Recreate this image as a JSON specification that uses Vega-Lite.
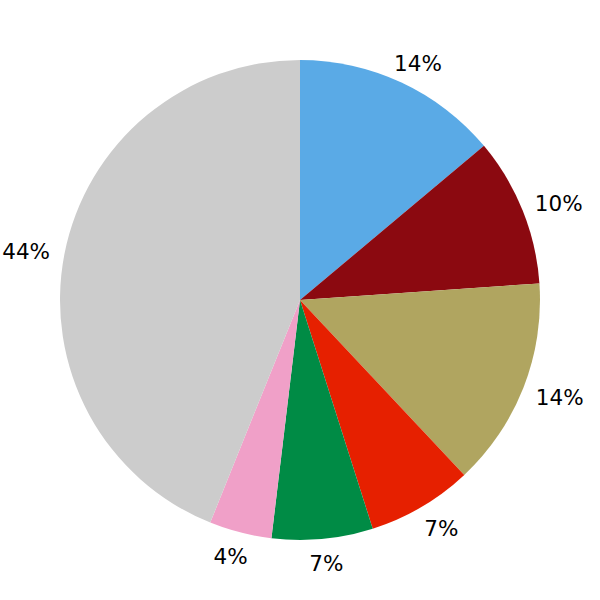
{
  "$schema": "https://vega.github.io/schema/vega-lite/v6.json",
  "width": 600,
  "height": 600,
  "padding": 0,
  "autosize": {"type": "fit", "contains": "padding"},
  "background": "white",
  "view": {"stroke": null},
  "data": {
    "values": [
      {"idx": 1, "cat": "A", "value": 13.9, "label": "14%"},
      {"idx": 2, "cat": "B", "value": 10.0, "label": "10%"},
      {"idx": 3, "cat": "C", "value": 14.1, "label": "14%"},
      {"idx": 4, "cat": "D", "value": 7.1, "label": "7%"},
      {"idx": 5, "cat": "E", "value": 6.8, "label": "7%"},
      {"idx": 6, "cat": "F", "value": 4.2, "label": "4%"},
      {"idx": 7, "cat": "G", "value": 43.9, "label": "44%"}
    ]
  },
  "encoding": {
    "theta": {"field": "value", "type": "quantitative", "stack": true},
    "order": {"field": "idx", "type": "quantitative"}
  },
  "layer": [
    {
      "mark": {"type": "arc", "outerRadius": 240},
      "encoding": {
        "color": {
          "field": "cat",
          "type": "nominal",
          "scale": {
            "domain": ["A", "B", "C", "D", "E", "F", "G"],
            "range": ["#5AAAE6", "#8B0910", "#B0A560", "#E62000", "#008B45", "#F0A0C8", "#CCCCCC"]
          },
          "legend": null
        }
      }
    },
    {
      "mark": {
        "type": "text",
        "radius": 263,
        "font": "DejaVu Sans",
        "fontSize": 21.5,
        "color": "black",
        "align": "center",
        "baseline": "middle",
        "dy": 3,
        "dx": {"expr": "16*sin(PI*(datum.value_start+datum.value_end)/100)"}
      },
      "encoding": {"text": {"field": "label"}}
    }
  ]
}
